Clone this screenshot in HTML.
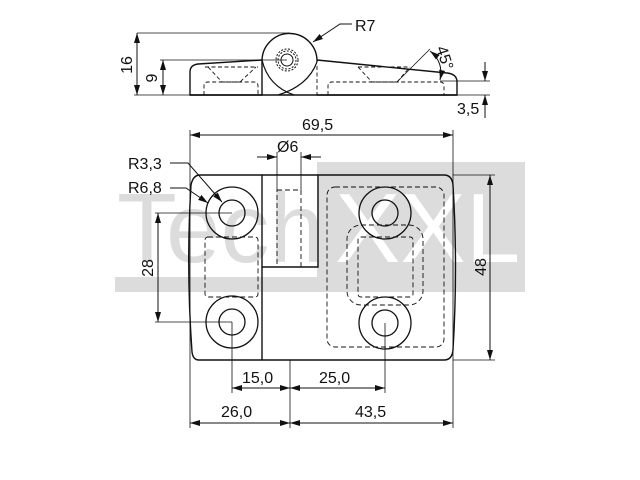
<!DOCTYPE html>
<html><head><meta charset="utf-8"><style>
html,body{margin:0;padding:0;background:#fff;width:640px;height:480px;overflow:hidden}
svg{display:block}
text{font-family:"Liberation Sans",sans-serif;fill:#111}
</style></head><body>
<svg width="640" height="480" viewBox="0 0 640 480" xmlns="http://www.w3.org/2000/svg">
<defs>
<marker id="a" viewBox="0 0 10 6" refX="10" refY="3" markerWidth="10" markerHeight="6" markerUnits="userSpaceOnUse" orient="auto-start-reverse"><path d="M0,0 L10,3 L0,6 z" fill="#111"/></marker>
</defs>
<!-- watermark -->
<rect x="115" y="277" width="410" height="15" fill="#dcdcdc"/>
<rect x="317" y="162" width="208" height="130" fill="#dcdcdc"/>
<text x="117" y="262" font-size="98" style="fill:#dcdcdc">Tech</text>
<text x="335" y="262" font-size="98" style="fill:#fff">XXL</text>

<g fill="none" stroke="#111" stroke-width="1">
<!-- top view -->
<path d="M190,95 L190,72 Q190,65 198,64 L262,60 L262,95 Z" stroke-width="1.4"/>
<path d="M317,60 L447,73 Q457,74 457,82 L457,95 L317,95" stroke-width="1.4"/>
<line x1="190" y1="95" x2="457" y2="95" stroke-width="1.4"/>
<path d="M262,60 A27,27 0 1 1 317,62" stroke-width="1.4"/>
<path d="M262,60 Q268,86 294,95 M317,62 Q308,86 278,95" stroke-width="1.2"/>
<circle cx="287" cy="60" r="9" stroke-dasharray="2,1.5"/>
<circle cx="287" cy="60" r="11" stroke-dasharray="2,1.5"/>
<circle cx="287" cy="60" r="6"/>
<g stroke-dasharray="4,2.5" stroke-width="0.9">
<path d="M205,67 L258,67 M208,67 L222,82 L240,82 L256,67 M204,95 L204,86 Q204,82 208,82 L254,82 Q258,82 258,86 L258,95"/>
<path d="M358,67 L408,67 M358,67 L372,82 L397,82 L410,67 M328,95 L328,86 Q328,82 332,82 L440,82 Q444,82 444,86 L444,95"/>
<line x1="317" y1="66" x2="317" y2="95"/>
</g>
<!-- top dims -->
<line x1="137" y1="33" x2="290" y2="33" stroke-width="0.8"/>
<line x1="160" y1="60" x2="287" y2="60" stroke-width="0.8"/>
<line x1="134" y1="95" x2="190" y2="95" stroke-width="0.8"/>
<line x1="137" y1="33" x2="137" y2="95" marker-start="url(#a)" marker-end="url(#a)"/>
<line x1="163" y1="60" x2="163" y2="95" marker-start="url(#a)" marker-end="url(#a)"/>
<polyline points="352,24 340,24 313,42" marker-end="url(#a)"/>
<line x1="397" y1="82" x2="430" y2="49" stroke-width="0.8"/>
<path d="M430,51 Q444,62 440,80" marker-start="url(#a)" marker-end="url(#a)"/>
<line x1="440" y1="81" x2="490" y2="81" stroke-width="0.8"/>
<line x1="457" y1="95" x2="490" y2="95" stroke-width="0.8"/>
<line x1="485" y1="62" x2="485" y2="81" marker-end="url(#a)"/>
<line x1="485" y1="118" x2="485" y2="95" marker-end="url(#a)"/>

<!-- main body -->
<path d="M200,175 L262,175 L262,267 L318,267 L318,175 L444,175 Q452,175 453,185 Q458,267 453,350 Q452,360 444,360 L199,360 Q193,360 192,352 Q186,267 191,185 Q193,175 200,175 Z" stroke-width="1.4"/>
<line x1="262" y1="267" x2="262" y2="360" stroke-width="1.4"/>
<line x1="262" y1="175" x2="318" y2="175" stroke-width="1.4"/>
<circle cx="232" cy="213" r="26" stroke-width="1.3"/><circle cx="232" cy="213" r="13" stroke-width="1.3"/>
<circle cx="232" cy="322" r="26" stroke-width="1.3"/><circle cx="232" cy="322" r="13" stroke-width="1.3"/>
<circle cx="385" cy="213" r="26" stroke-width="1.3"/><circle cx="385" cy="213" r="13" stroke-width="1.3"/>
<circle cx="385" cy="323" r="26" stroke-width="1.3"/><circle cx="385" cy="323" r="13" stroke-width="1.3"/>
<g stroke-dasharray="5,3" stroke-width="0.9">
<rect x="277" y="190" width="24" height="77"/>
<rect x="205" y="237" width="53" height="60" rx="3"/>
<rect x="327" y="187" width="117" height="160" rx="8"/>
<rect x="347" y="225" width="76" height="80" rx="14"/>
<rect x="358" y="237" width="55" height="60" rx="3"/>
</g>
<!-- main dims -->
<line x1="190" y1="130" x2="190" y2="428" stroke-width="0.8"/>
<line x1="453" y1="130" x2="453" y2="428" stroke-width="0.8"/>
<line x1="190" y1="135" x2="453" y2="135" marker-start="url(#a)" marker-end="url(#a)"/>
<line x1="277" y1="152" x2="277" y2="190" stroke-width="0.8"/>
<line x1="301" y1="152" x2="301" y2="190" stroke-width="0.8"/>
<line x1="257" y1="157" x2="277" y2="157" marker-end="url(#a)"/>
<line x1="321" y1="157" x2="301" y2="157" marker-end="url(#a)"/>
<line x1="453" y1="175" x2="495" y2="175" stroke-width="0.8"/>
<line x1="453" y1="360" x2="495" y2="360" stroke-width="0.8"/>
<line x1="490" y1="175" x2="490" y2="360" marker-start="url(#a)" marker-end="url(#a)"/>
<line x1="155" y1="213" x2="232" y2="213" stroke-width="0.8"/>
<line x1="155" y1="322" x2="232" y2="322" stroke-width="0.8"/>
<line x1="158" y1="213" x2="158" y2="322" marker-start="url(#a)" marker-end="url(#a)"/>
<polyline points="170,163 188,163 222,202" marker-end="url(#a)"/>
<polyline points="170,188 186,188 208,203" marker-end="url(#a)"/>
<line x1="232" y1="322" x2="232" y2="393" stroke-width="0.8"/>
<line x1="290" y1="360" x2="290" y2="428" stroke-width="0.8"/>
<line x1="385" y1="323" x2="385" y2="393" stroke-width="0.8"/>
<line x1="232" y1="388" x2="290" y2="388" marker-start="url(#a)" marker-end="url(#a)"/>
<line x1="290" y1="388" x2="385" y2="388" marker-start="url(#a)" marker-end="url(#a)"/>
<line x1="190" y1="423" x2="290" y2="423" marker-start="url(#a)" marker-end="url(#a)"/>
<line x1="290" y1="423" x2="453" y2="423" marker-start="url(#a)" marker-end="url(#a)"/>
</g>
<!-- labels -->
<g font-size="16">
<text x="355" y="31">R7</text>
<text x="457" y="114">3,5</text>
<text x="302" y="130">69,5</text>
<text x="277" y="152">Ø6</text>
<text x="128" y="169">R3,3</text>
<text x="128" y="193">R6,8</text>
<text x="242" y="383">15,0</text>
<text x="319" y="383">25,0</text>
<text x="221" y="417">26,0</text>
<text x="355" y="417">43,5</text>
<text transform="translate(132,65) rotate(-90)" text-anchor="middle">16</text>
<text transform="translate(157,78) rotate(-90)" text-anchor="middle">9</text>
<text transform="translate(153,268) rotate(-90)" text-anchor="middle">28</text>
<text transform="translate(486,267) rotate(-90)" text-anchor="middle">48</text>
<text transform="translate(436,48) rotate(72)" font-size="16">45°</text>
</g>
</svg>
</body></html>
